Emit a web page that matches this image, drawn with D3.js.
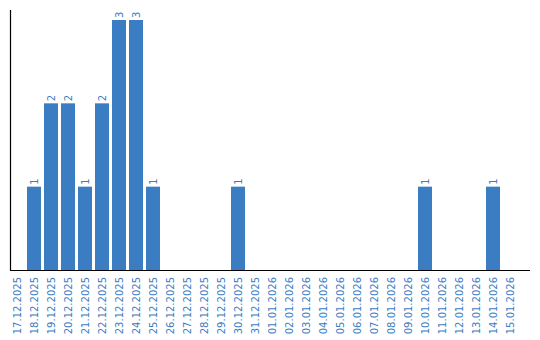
<!DOCTYPE html>
<html><head><meta charset="utf-8">
<script src="https://cdn.jsdelivr.net/npm/d3@7"></script>
<style>body{margin:0;background:#fff}svg{display:block}</style>
</head><body>
<script>
const categories = ["17.12.2025","18.12.2025","19.12.2025","20.12.2025","21.12.2025","22.12.2025","23.12.2025","24.12.2025","25.12.2025","26.12.2025","27.12.2025","28.12.2025","29.12.2025","30.12.2025","31.12.2025","01.01.2026","02.01.2026","03.01.2026","04.01.2026","05.01.2026","06.01.2026","07.01.2026","08.01.2026","09.01.2026","10.01.2026","11.01.2026","12.01.2026","13.01.2026","14.01.2026","15.01.2026"];
const values = [0,1,2,2,1,2,3,3,1,0,0,0,0,1,0,0,0,0,0,0,0,0,0,0,1,0,0,0,1,0];

const W = 540, H = 340;
const color = "#3b7dc3";
const svg = d3.select("body").append("svg").attr("width", W).attr("height", H);

const x = d3.scaleBand().domain(categories).range([8.5, 518.5])
  .paddingInner(3/17).paddingOuter(1.5/17);
const y = d3.scaleLinear().domain([0, 3]).range([270, 20]);

svg.append("g").selectAll("rect").data(categories).join("rect")
  .attr("x", d => x(d)).attr("width", x.bandwidth())
  .attr("y", (d,i) => y(values[i])).attr("height", (d,i) => y(0) - y(values[i]))
  .attr("fill", color);

svg.append("g").selectAll("text").data(categories.filter((d,i)=>values[i]>0)).join("text")
  .attr("transform", d => `translate(${x(d)+x.bandwidth()/2+3.5},${y(values[categories.indexOf(d)])-2}) rotate(-90)`)
  .attr("font-family", "DejaVu Sans").attr("font-size", 10).attr("fill", color)
  .text(d => values[categories.indexOf(d)]);

// axes
svg.append("line").attr("x1", 10.5).attr("x2", 10.5).attr("y1", 10).attr("y2", 270.5)
  .attr("stroke", "#000").attr("stroke-width", 1.2);
svg.append("line").attr("x1", 10).attr("x2", 530).attr("y1", 270.5).attr("y2", 270.5)
  .attr("stroke", "#000").attr("stroke-width", 1.2);

const xAxis = d3.axisBottom(x).tickSize(0).tickPadding(0);
const gx = svg.append("g").attr("transform", "translate(0,270)").call(xAxis);
gx.select(".domain").remove();
gx.selectAll("text")
  .attr("font-family", "DejaVu Sans").attr("font-size", 10).attr("fill", color)
  .attr("text-anchor", "end").attr("dy", null).attr("y", 0)
  .attr("transform", "translate(3.5,7) rotate(-90)");
</script>
</body></html>
